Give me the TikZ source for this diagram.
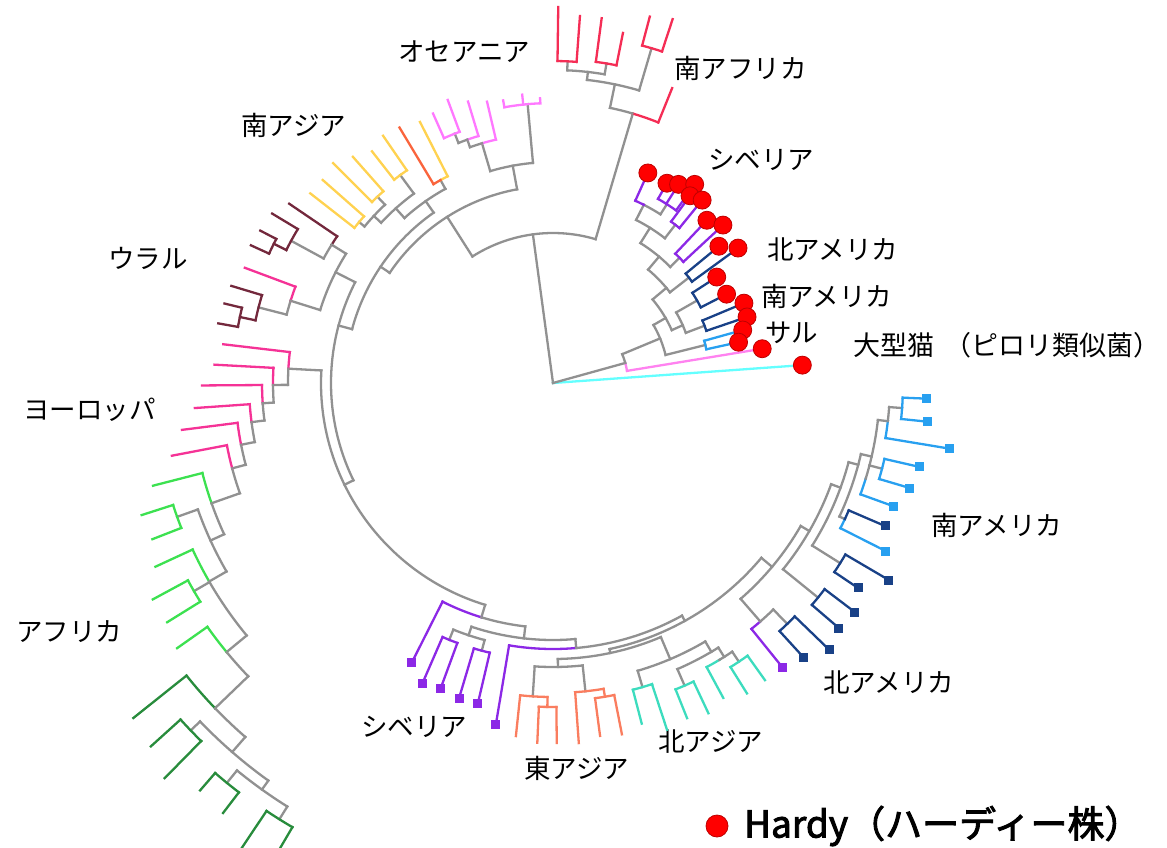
\documentclass[tikz,border=0pt]{standalone}
\usepackage{fontspec}
\newfontfamily\jp{Noto Sans CJK JP}[AutoFakeBold=2.5]
\definecolor{cGry}{RGB}{145,145,145}
\definecolor{cSar}{RGB}{245,45,85}
\definecolor{cOce}{RGB}{255,120,255}
\definecolor{cYel}{RGB}{255,210,80}
\definecolor{cOrg}{RGB}{250,100,60}
\definecolor{cUra}{RGB}{115,40,60}
\definecolor{cEur}{RGB}{245,50,150}
\definecolor{cLgr}{RGB}{60,225,80}
\definecolor{cDgr}{RGB}{40,140,60}
\definecolor{cPur}{RGB}{140,40,230}
\definecolor{cSal}{RGB}{250,125,95}
\definecolor{cTqs}{RGB}{60,220,190}
\definecolor{cNav}{RGB}{25,65,135}
\definecolor{cLbb}{RGB}{40,160,240}
\definecolor{cCya}{RGB}{100,255,255}
\definecolor{cHpk}{RGB}{255,130,240}
\definecolor{cDot}{RGB}{255,0,0}
\definecolor{cDotE}{RGB}{190,0,0}
\tikzset{
  gry/.style={draw=cGry}, sar/.style={draw=cSar}, oce/.style={draw=cOce},
  yel/.style={draw=cYel}, org/.style={draw=cOrg}, ura/.style={draw=cUra},
  eur/.style={draw=cEur}, lgr/.style={draw=cLgr}, dgr/.style={draw=cDgr},
  pur/.style={draw=cPur}, sal/.style={draw=cSal}, tqs/.style={draw=cTqs},
  nav/.style={draw=cNav}, lbb/.style={draw=cLbb}, cya/.style={draw=cCya},
  hpk/.style={draw=cHpk},
  txt/.style={anchor=west,inner sep=0pt,font=\jp\fontsize{26.5pt}{28pt}\selectfont}
}
\newcommand\tA[4][gry]{\draw[#1] (#3:#2pt) arc[start angle=#3,end angle=#4,radius=#2pt];}
\newcommand\tR[4][gry]{\draw[#1] (#2:#3pt) -- (#2:#4pt);}
\newcommand\tSq[3]{\fill[#1] (#2:#3pt) ++(-4.5pt,-4.5pt) rectangle ++(9pt,9pt);}
\newcommand\tDot[2]{\fill[cDot,draw=cDotE,line width=0.8pt] (#1:#2pt) circle (9pt);}
\begin{document}
\begin{tikzpicture}[line width=2.3pt, line cap=rect]
\fill[white] (0,0) rectangle (1167pt,-848pt);
\useasboundingbox (0,0) rectangle (1167pt,-848pt);
% labels
\node[txt] (lOce) at (397pt,-52pt) {オセアニア};
\node[txt] (lSaf) at (673pt,-68pt) {南アフリカ};
\node[txt] (lSas) at (240pt,-125pt) {南アジア};
\node[txt] (lSib1) at (707pt,-160pt) {シベリア};
\node[txt] (lUra) at (107pt,-258pt) {ウラル};
\node[txt] (lNam1) at (766pt,-250pt) {北アメリカ};
\node[txt] (lSam1) at (760pt,-296pt) {南アメリカ};
\node[txt] (lSar) at (764pt,-333pt) {サル};
\node[txt,font=\jp\fontsize{27pt}{28pt}\selectfont] (lCat) at (852pt,-345pt) {大型猫\hspace{10pt}（ピロリ類似菌）};
\node[txt] (lEur) at (22pt,-410pt) {ヨーロッパ};
\node[txt] (lSam2) at (930pt,-525pt) {南アメリカ};
\node[txt] (lAfr) at (15pt,-632pt) {アフリカ};
\node[txt] (lNam2) at (822pt,-683pt) {北アメリカ};
\node[txt] (lSib2) at (360pt,-727pt) {シベリア};
\node[txt] (lNas) at (657pt,-742pt) {北アジア};
\node[txt] (lEas) at (523pt,-768pt) {東アジア};
\fill[cDot,draw=cDotE,line width=0.8pt] (717pt,-826pt) circle (11pt);
\node[anchor=west,inner sep=0pt,font=\jp\bfseries\fontsize{37pt}{38pt}\selectfont] (lHardy) at (743pt,-826pt) {Hardy（ハーディー株）};
\begin{scope}[shift={(553pt,-383pt)}]
% root & Hardy clade
\tR{97.7}{0}{150}
\tA{150}{73.5}{122.5}
\tR[cya]{4.1}{0}{250}
\tR{15.5}{0}{75}
\tA[hpk]{75}{9.3}{15.5}
\tA{75}{15.5}{22.6}
\tR[hpk]{9.3}{75}{212}
\tR{22.6}{75}{116}
\tA{116}{14}{30}
\tR{14}{116}{157}
\tA[lbb]{157}{12.4}{15.6}
\tR[lbb]{12.4}{157}{190}
\tR[lbb]{15.6}{157}{197}
\tR{30}{116}{130}
\tA{130}{24}{40}
\tR{24}{130}{142}
\tA{142}{20.7}{29.8}
\tR{20.7}{142}{162}
\tA[nav]{162}{18.8}{22.7}
\tR[nav]{18.8}{162}{205}
\tR[nav]{22.7}{162}{207}
\tR{29.8}{142}{166}
\tA[nav]{166}{27.1}{32.9}
\tR[nav]{27.1}{166}{195}
\tR[nav]{32.9}{166}{195}
\tR{40}{130}{148}
\tA{148}{37.8}{50}
\tR{37.8}{148}{172}
\tA[nav]{172}{36.1}{39.5}
\tR[nav]{36.1}{172}{229}
\tR[nav]{39.5}{172}{215}
\tR{50}{148}{165}
\tA{165}{44.7}{58}
\tR{44.7}{165}{178}
\tA[pur]{178}{42.9}{46.6}
\tR[pur]{42.9}{178}{232}
\tR[pur]{46.6}{178}{224}
\tR{58}{165}{183}
\tA{183}{52.3}{63}
\tR{52.3}{183}{200}
\tA[pur]{200}{50.8}{53.8}
\tR[pur]{50.8}{200}{236}
\tR[pur]{53.8}{200}{232}
\tR{63}{183}{200}
\tA{200}{57.5}{63}
\tA[pur]{200}{63}{65.7}
\tR[pur]{65.7}{200}{230.5}
\tR{57.5}{200}{212}
\tA[pur]{212}{54.5}{60.3}
\tR[pur]{54.5}{212}{244}
\tR[pur]{57.7}{212}{235}
\tR[pur]{60.3}{212}{230}
% South Africa
\tR{73.5}{150}{281}
\tA[sar]{281}{68}{73.6}
\tA{281}{73.6}{78.3}
\tR[sar]{68}{281}{318}
\tR{78.3}{281}{305}
\tA{305}{73.6}{83.6}
\tR{73.6}{305}{349}
\tA[sar]{349}{71.8}{75.2}
\tR[sar]{71.8}{349}{383}
\tR[sar]{75.2}{349}{379}
\tR{83.6}{305}{313}
\tA{313}{80.5}{87.4}
\tR{87.4}{313}{322}
\tA[sar]{322}{85.8}{89.2}
\tR[sar]{85.8}{322}{368}
\tR[sar]{89.2}{322}{376}
\tR{80.5}{313}{324}
\tA[sar]{324}{78.7}{82.4}
\tR[sar]{78.7}{324}{357}
\tR[sar]{82.4}{324}{368}
% main clade
\tR{122.5}{150}{197}
\tA{197}{100.5}{146}
% Oceania
\tR{100.5}{197}{221}
\tA{221}{95.2}{106.5}
\tR{95.2}{221}{280}
\tA[oce]{280}{92.6}{100}
\tR[oce]{92.6}{280}{285}
\tR[oce]{96.1}{280}{290}
\tR[oce]{100}{280}{287}
\tR{106.5}{221}{250}
\tA[oce]{250}{103.2}{106.5}
\tA{250}{106.5}{109.4}
\tR[oce]{103.2}{250}{289}
\tR{109.4}{250}{258}
\tA[oce]{258}{106.8}{109.4}
\tA{258}{109.4}{111.5}
\tR[oce]{106.8}{258}{294}
\tR{111.5}{258}{268}
\tA[oce]{268}{110.4}{114}
\tR[oce]{110.4}{268}{302}
\tR[oce]{114}{268}{295}
% South Asia
\tR{146}{197}{208}
\tA{208}{125}{165}
\tR{125}{208}{222}
\tA{222}{119}{132}
\tR{119}{222}{232}
\tA[yel]{232}{117}{119}
\tA[org]{232}{119}{121}
\tR[yel]{117}{232}{293}
\tR[org]{121}{232}{298}
\tR{132}{222}{235}
\tA{235}{126.3}{137}
\tR{126.3}{235}{258}
\tA[yel]{258}{124.5}{128}
\tR[yel]{124.5}{258}{300}
\tR[yel]{128}{258}{294}
\tR{137}{235}{245}
\tA{245}{133.3}{140.3}
\tR{133.3}{245}{256}
\tA[yel]{256}{131.5}{135}
\tR[yel]{131.5}{256}{302}
\tR[yel]{135}{256}{311}
\tR{140.3}{245}{252}
\tA[yel]{252}{138.6}{142}
\tR[yel]{138.6}{252}{307}
\tR[yel]{142}{252}{308}
% Ural
\tR{165}{208}{222}
\tA{222}{153}{206}
\tR{153}{222}{244}
\tA{244}{148}{162.6}
\tR{148}{244}{261}
\tA[ura]{261}{145.8}{148}
\tA{261}{148}{151.5}
\tR[ura]{145.8}{261}{319}
\tR{151.5}{261}{298}
\tA[ura]{298}{148.9}{153.5}
\tR[ura]{148.9}{298}{328}
\tR[ura]{153.5}{298}{312}
\tA[ura]{312}{152.5}{155.5}
\tR[ura]{152.5}{312}{330}
\tR[ura]{155.5}{312}{332}
\tR{162.6}{244}{275}
\tA[eur]{275}{159.5}{162.6}
\tA{275}{162.6}{165.6}
\tR[eur]{159.5}{275}{329}
\tR{165.6}{275}{304}
\tA[ura]{304}{163.2}{168.1}
\tR[ura]{163.2}{304}{336}
\tR[ura]{168.1}{304}{320}
\tA[ura]{320}{166.4}{169.9}
\tR[ura]{166.4}{320}{338}
\tR[ura]{169.9}{320}{340}
% Europe
\tR{206}{222}{232}
\tA{232}{176.9}{253}
\tR{176.9}{232}{265}
\tA[eur]{265}{173.3}{176.9}
\tA{265}{176.9}{180.4}
\tR[eur]{173.3}{265}{332}
\tR{180.4}{265}{280}
\tA[eur]{280}{176.9}{180.4}
\tA{280}{180.4}{184}
\tR[eur]{176.9}{280}{339}
\tR{184}{280}{291}
\tA[eur]{291}{180.4}{184}
\tA{291}{184}{187.4}
\tR[eur]{180.4}{291}{351}
\tR{187.4}{291}{304}
\tA[eur]{304}{184}{187.4}
\tA{304}{187.4}{191.2}
\tR[eur]{184}{304}{359}
\tR{191.2}{304}{318}
\tA[eur]{318}{187.2}{191.2}
\tA{318}{191.2}{194.9}
\tR[eur]{187.2}{318}{374}
\tR{194.9}{318}{332}
\tA[eur]{332}{190.8}{194.9}
\tA{332}{194.9}{199.4}
\tR[eur]{190.8}{332}{388}
% Africa
\tR{199.4}{332}{362}
\tA[lgr]{362}{194.4}{199.4}
\tA{362}{199.4}{204.7}
\tR[lgr]{194.4}{362}{413}
\tR{204.7}{362}{377}
\tA{377}{199.6}{210}
\tR{199.6}{377}{399}
\tA[lgr]{399}{197.8}{201.3}
\tR[lgr]{197.8}{399}{432}
\tR[lgr]{201.3}{399}{430}
\tR{210}{377}{397}
\tA[lgr]{397}{204.8}{210}
\tA{397}{210}{219.5}
\tR[lgr]{204.8}{397}{438}
\tR{210.1}{397}{415}
\tA[lgr]{415}{208.4}{211.8}
\tR[lgr]{208.4}{415}{455}
\tR[lgr]{211.8}{415}{454}
\tR{219.5}{397}{423}
\tA[lgr]{423}{215.2}{219.5}
\tA{423}{219.5}{223.9}
\tR[lgr]{215.2}{423}{460}
\tR{223.9}{423}{469}
\tA[dgr]{469}{218.6}{223.9}
\tA{469}{223.9}{229}
\tR[dgr]{218.6}{469}{537}
\tR{229}{469}{489}
\tA{489}{223.8}{234.4}
\tR{223.8}{489}{502}
\tA[dgr]{502}{222.1}{225.5}
\tR[dgr]{222.1}{502}{542}
\tR[dgr]{225.5}{502}{554}
\tR{234.4}{489}{500}
\tA{500}{230.8}{237.9}
\tR{230.8}{500}{516}
\tA[dgr]{516}{229.1}{232.5}
\tR[dgr]{229.1}{516}{539}
\tR[dgr]{232.5}{516}{542}
\tR{237.9}{500}{515}
\tA[dgr]{515}{236.2}{239.6}
\tR[dgr]{236.2}{515}{565}
\tR[dgr]{239.6}{515}{565}
% Siberia (bottom)
\tR{253}{232}{245}
\tA[pur]{245}{243.2}{253}
\tA{245}{253}{263.5}
\tR[pur]{243.2}{245}{313}
\tR{263.5}{245}{257}
\tA{257}{251.5}{275}
\tR{251.5}{257}{266}
\tA{266}{248}{255.1}
\tR{248}{266}{277}
\tA[pur]{277}{246.5}{249.8}
\tR[pur]{246.5}{277}{328}
\tR[pur]{249.8}{277}{325}
\tR{255.1}{266}{277}
\tA[pur]{277}{253.4}{256.8}
\tR[pur]{253.4}{277}{329}
\tR[pur]{256.8}{277}{329}
\tR{275}{257}{266}
\tA[pur]{266}{260.5}{275}
\tA{266}{275}{299}
\tR[pur]{260.5}{266}{346}
% East Asia / North Asia
\tR{299}{266}{272}
\tA{272}{282}{320}
\tR{282}{272}{276}
\tA{276}{271}{293}
\tR{271}{276}{284}
\tA{284}{266.3}{276}
\tR{266.3}{284}{314}
\tA[sal]{314}{264}{269}
\tR[sal]{264}{314}{355}
\tR[sal]{269}{314}{324}
\tA[sal]{324}{267.5}{270.6}
\tR[sal]{267.5}{324}{360}
\tR[sal]{270.6}{324}{360}
\tR{276}{284}{310}
\tA[sal]{310}{274.1}{279.4}
\tR[sal]{274.1}{310}{361}
\tR[sal]{279.4}{310}{318}
\tA[sal]{318}{277.6}{281.1}
\tR[sal]{277.6}{318}{356}
\tR[sal]{281.1}{318}{358}
\tR{293}{276}{300}
\tA{300}{286.4}{300.5}
\tR{286.4}{300}{317}
\tA[tqs]{317}{284.6}{288.2}
\tR[tqs]{284.6}{317}{352}
\tR[tqs]{288.2}{317}{365}
\tR{300.5}{300}{312}
\tA{312}{293.5}{302}
\tR{293.5}{312}{330}
\tA[tqs]{330}{291.8}{295.2}
\tR[tqs]{291.8}{330}{361}
\tR[tqs]{295.2}{330}{365}
\tR{302}{312}{323}
\tA[tqs]{323}{298.4}{301}
\tA{323}{301}{303.7}
\tR[tqs]{298.4}{323}{358}
\tR{303.7}{323}{335}
\tA[tqs]{335}{302}{305.5}
\tR[tqs]{302}{335}{366}
\tR[tqs]{305.5}{335}{365}
% Americas
\tR{320}{272}{286}
\tA{286}{311}{330}
\tR{311}{286}{316}
\tA[pur]{316}{308.9}{311}
\tA{316}{311}{314.2}
\tR[pur]{308.9}{316}{366}
\tR{314.2}{316}{336}
\tA[nav]{336}{312.4}{316}
\tR[nav]{312.4}{336}{372}
\tR[nav]{316}{336}{384}
\tR{330}{286}{296}
\tA{296}{321}{340}
\tR{321}{296}{341}
\tA[nav]{341}{319.4}{322.8}
\tR[nav]{319.4}{341}{376.6}
\tR[nav]{322.8}{341}{379}
\tR{340}{296}{306}
\tA{306}{327.9}{345}
\tR{327.9}{306}{339}
\tA[nav]{339}{326.1}{329.6}
\tR[nav]{326.1}{339}{367.5}
\tR[nav]{329.6}{339}{389.5}
\tR{345}{306}{316}
\tA{316}{335}{347}
\tR{335}{316}{322}
\tA[lbb]{322}{333.2}{335}
\tA[nav]{322}{335}{336.7}
\tR[lbb]{333.2}{322}{373}
\tR[nav]{336.7}{322}{361.5}
\tR{347}{316}{327}
\tA[lbb]{327}{340.1}{343}
\tA{327}{343}{353.5}
\tR[lbb]{340.1}{327}{361.6}
\tR{345.4}{327}{340}
\tA[lbb]{340}{343.6}{347.1}
\tR[lbb]{343.6}{340}{372}
\tR[lbb]{347.1}{340}{375.5}
\tR{353.5}{327}{337}
\tA[lbb]{337}{350.6}{353.5}
\tA{337}{353.5}{355.9}
\tR[lbb]{350.6}{337}{402}
\tR{355.9}{337}{350}
\tA[lbb]{350}{354.1}{357.6}
\tR[lbb]{354.1}{350}{377}
\tR[lbb]{357.6}{350}{374}
% squares
\tSq{cPur}{243.2}{313}\tSq{cPur}{246.5}{328}\tSq{cPur}{249.8}{325}
\tSq{cPur}{253.4}{329}\tSq{cPur}{256.8}{329}\tSq{cPur}{260.5}{346}
\tSq{cPur}{308.9}{366}
\tSq{cNav}{312.4}{372}\tSq{cNav}{316}{384}\tSq{cNav}{319.4}{376.6}
\tSq{cNav}{322.8}{379}\tSq{cNav}{326.1}{367.5}\tSq{cNav}{329.6}{389.5}
\tSq{cLbb}{333.2}{373}\tSq{cNav}{336.7}{361.5}\tSq{cLbb}{340.1}{361.6}
\tSq{cLbb}{343.6}{372}\tSq{cLbb}{347.1}{375.5}\tSq{cLbb}{350.6}{402}
\tSq{cLbb}{354.1}{377}\tSq{cLbb}{357.6}{374}
% Hardy dots
\tDot{65.7}{230.5}\tDot{60.3}{230}\tDot{57.7}{235}\tDot{54.5}{244}
\tDot{53.8}{232}\tDot{50.8}{236}\tDot{46.6}{224}\tDot{42.9}{232}
\tDot{39.5}{215}\tDot{36.1}{229}\tDot{32.9}{195}\tDot{27.1}{195}
\tDot{22.7}{207}\tDot{18.8}{205}\tDot{15.6}{197}\tDot{12.4}{190}
\tDot{9.3}{212}\tDot{4.1}{250}
\end{scope}
\end{tikzpicture}
\end{document}
